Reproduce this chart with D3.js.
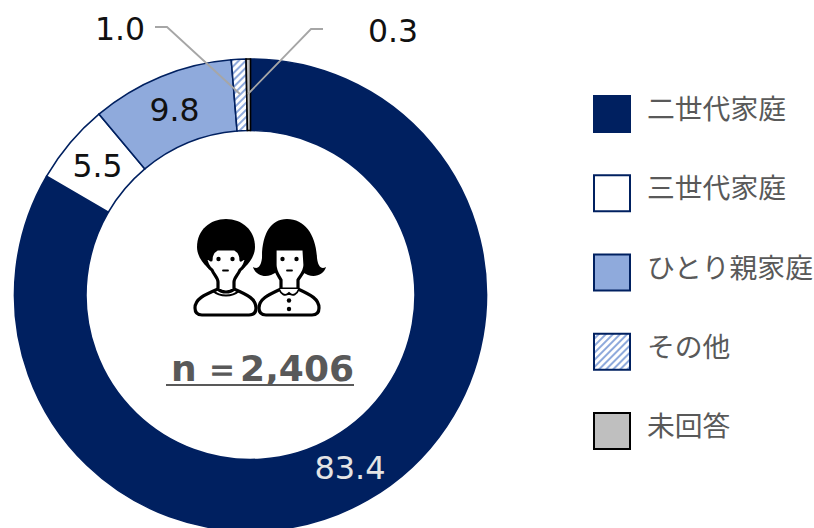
<!DOCTYPE html>
<html>
<head>
<meta charset="utf-8">
<script src="https://cdnjs.cloudflare.com/ajax/libs/d3/7.8.5/d3.min.js"></script>
<style>
  html, body { margin: 0; padding: 0; background: #fff; overflow: hidden; }
  text { font-family: "DejaVu Sans", sans-serif; }
  .legend text { font-family: "Noto Sans CJK JP", sans-serif; font-size: 27.8px; fill: #595959; }
</style>
</head>
<body>
<div id="chart"></div>
<script>
const categories = ['二世代家庭', '三世代家庭', 'ひとり親家庭', 'その他', '未回答']
const values = [83.4, 5.5, 9.8, 1.0, 0.3]
const valueLabels = ['83.4', '5.5', '9.8', '1.0', '0.3']
const sampleLabel = 'n ＝2,406'

const navy = '#002060'
const fills = [navy, '#ffffff', '#8faadc', 'url(#hatch)', '#bfbfbf']
const strokes = [navy, navy, navy, navy, '#000000']

const width = 814
const height = 528
const chart = {cx: 250.5, cy: 295, outer: 236, inner: 164.5}

const svg = d3.select('#chart').append('svg')
  .attr('width', width)
  .attr('height', height)
  .style('display', 'block')

// diagonal hatch for the "other" slice
const hatch = svg.append('defs').append('pattern')
  .attr('id', 'hatch')
  .attr('width', 5)
  .attr('height', 5)
  .attr('patternUnits', 'userSpaceOnUse')
  .attr('patternTransform', 'rotate(45)')
hatch.append('rect').attr('width', 5).attr('height', 5).attr('fill', '#fff')
hatch.append('rect').attr('width', 2).attr('height', 5).attr('fill', '#8faadc')

const pie = d3.pie().sort(null).value(d => d)
const arc = d3.arc().innerRadius(chart.inner).outerRadius(chart.outer)
const arcs = pie(values)

const ring = svg.append('g')
  .attr('transform', `translate(${chart.cx},${chart.cy})`)

ring.selectAll('path')
  .data(arcs)
  .enter()
  .append('path')
  .attr('d', arc)
  .attr('fill', (d, i) => fills[i])
  .attr('stroke', (d, i) => strokes[i])
  .attr('stroke-width', 1.6)

// value labels: the two big inner ones sit on their slice, the rest by hand
const polar = (d, r) => {
  const a = (d.startAngle + d.endAngle) / 2
  return [chart.cx + r * Math.sin(a), chart.cy - r * Math.cos(a)]
}

svg.append('text')
  .attr('x', 350)
  .attr('y', 479)
  .attr('text-anchor', 'middle')
  .attr('font-size', 32)
  .attr('fill', '#e4e4e4')
  .text(valueLabels[0])

;[1, 2].forEach(i => {
  const p = polar(arcs[i], 200)
  svg.append('text')
    .attr('x', p[0])
    .attr('y', p[1] + 11)
    .attr('text-anchor', 'middle')
    .attr('font-size', 31.5)
    .attr('fill', '#111')
    .text(valueLabels[i])
})

svg.append('text').attr('x', 120).attr('y', 40)
  .attr('text-anchor', 'middle').attr('font-size', 31.5).attr('fill', '#111')
  .text(valueLabels[3])
svg.append('text').attr('x', 393).attr('y', 42)
  .attr('text-anchor', 'middle').attr('font-size', 31.5).attr('fill', '#111')
  .text(valueLabels[4])

// leader lines
const leaders = [
  [[155, 27], [167, 27], [240, 94]],
  [[323, 29], [311, 29], [248, 94]],
]
svg.selectAll('polyline.leader')
  .data(leaders)
  .enter()
  .append('polyline')
  .attr('class', 'leader')
  .attr('points', d => d.join(' '))
  .attr('fill', 'none')
  .attr('stroke', '#a6a6a6')
  .attr('stroke-width', 1.8)

// centre sample size
svg.append('text')
  .attr('x', 354)
  .attr('y', 381)
  .attr('text-anchor', 'end')
  .attr('font-size', 36)
  .attr('font-weight', 'bold')
  .attr('fill', '#595959')
  .style('word-spacing', '-5px')
  .text(sampleLabel)
svg.append('line')
  .attr('x1', 166).attr('x2', 354)
  .attr('y1', 385).attr('y2', 385)
  .attr('stroke', '#595959')
  .attr('stroke-width', 2)

// legend
const legendY = d3.scalePoint()
  .domain(categories)
  .range([114, 431])

const legend = svg.append('g').attr('class', 'legend')
const rows = legend.selectAll('g')
  .data(categories)
  .enter()
  .append('g')
  .attr('transform', d => `translate(594,${legendY(d)})`)

rows.append('rect')
  .attr('x', 0)
  .attr('y', -18)
  .attr('width', 36)
  .attr('height', 36)
  .attr('fill', (d, i) => fills[i])
  .attr('stroke', (d, i) => strokes[i])
  .attr('stroke-width', 2)

rows.append('text')
  .attr('x', 53)
  .attr('y', 5)
  .text(d => d)

// people icon
const people = svg.append('g')
const black = {fill: '#000', stroke: 'none'}
const line = {fill: '#fff', stroke: '#000', 'stroke-width': 3.2, 'stroke-linejoin': 'round', 'stroke-linecap': 'round'}
const thin = {fill: 'none', stroke: '#000', 'stroke-width': 1.8, 'stroke-linecap': 'round'}
const shape = (d, style) => {
  const p = people.append('path').attr('d', d)
  Object.entries(style).forEach(([k, v]) => p.attr(k, v))
}
const dot = (x, y, r) => people.append('circle').attr('cx', x).attr('cy', y).attr('r', r).attr('fill', '#000')

// boy
shape('M208 268 C201 262 197 254 197 247 C197 230 210 219 226 219 C242 219 255 230 255 247 C255 254 251 262 244 268 Z', black)
shape('M195 308 C195 299 204 295 218 289 L234 289 C248 295 256 299 256 308 C256 313 253 315 249 315 L202 315 C198 315 195 313 195 308 Z', line)
shape('M212 270 C214 275 218 278 218 282 L218 289 C222 293 230 293 234 289 L234 282 C234 278 238 275 240 270 C243 268 246 262 247 256 L241 260 C241 254 239 251 235 249 L217 249 C213 251 211 254 211 260 L205 256 C206 262 209 268 212 270 Z', line)
shape('M213 291 C220 297 232 297 239 291', thin)
dot(218.5, 259, 2.2)
dot(232.5, 259, 2.2)
shape('M223 270.5 L228 270.5', thin)

// girl
shape('M253 267 C258 270 261 266 262 258 C262 235 270 219 287 219 C305 219 316 235 317 258 C318 266 321 270 326 267 C324 274 316 278 308 275 L302 272 L277 272 L271 275 C263 278 255 274 253 267 Z', black)
shape('M259 308 C259 299 268 295 281 289 L298 289 C311 295 319 299 319 308 C319 313 316 315 312 315 L266 315 C262 315 259 313 259 308 Z', line)
shape('M275 249 L304 249 L305 265 C305 272 300 276 298 280 L298 289 L281 289 L281 280 C279 276 275 272 275 265 Z', line)
shape('M279 289 C281 294 285 297 289 293 C293 297 297 294 299 289', {fill: '#fff', stroke: '#000', 'stroke-width': 1.8})
dot(282.5, 259, 2.2)
dot(296.5, 259, 2.2)
shape('M287 270.5 L292 270.5', thin)
dot(289, 300.5, 2.2)
dot(289, 309, 2.2)
</script>
</body>
</html>
